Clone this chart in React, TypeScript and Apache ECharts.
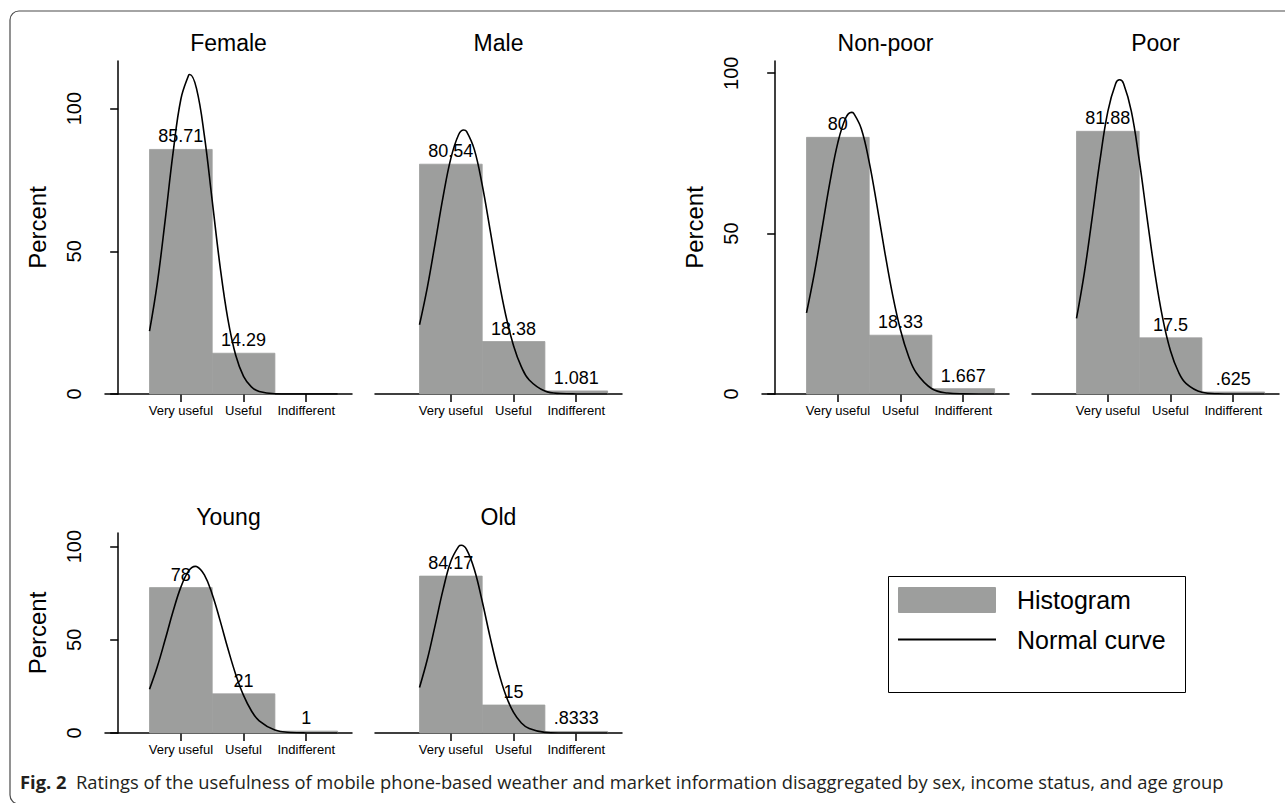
import React, { useEffect, useRef } from "react";
import * as echarts from "echarts";

// ---------- data ----------
const CATEGORIES = ["Very useful", "Useful", "Indifferent"];
const CATEGORY_X = [1, 2, 3];
const PANEL_TITLES = ["Female", "Male", "Non-poor", "Poor", "Young", "Old"];
const Y_TICKS = [0, 50, 100];

const FEMALE = [85.71, 14.29, 0];
const MALE = [80.54, 18.38, 1.081];
const NON_POOR = [80, 18.33, 1.667];
const POOR = [81.88, 17.5, 0.625];
const YOUNG = [78, 21, 1];
const OLD = [84.17, 15, 0.8333];

// normal curves: [x, percent]
const CURVE_FEMALE = [[0.5, 22.0], [0.625, 38.95], [0.75, 60.96], [0.875, 84.4], [1.0, 103.3], [1.125, 111.8], [1.143, 111.96], [1.25, 107.0], [1.375, 90.56], [1.5, 67.77], [1.625, 44.84], [1.75, 26.23], [1.875, 13.57], [2.0, 6.21], [2.125, 2.51], [2.25, 0.9], [2.5, 0.08], [2.75, 0], [3.0, 0], [3.25, 0], [3.5, 0]];
const CURVE_MALE = [[0.5, 24.27], [0.625, 37.39], [0.75, 52.97], [0.875, 68.98], [1.0, 82.59], [1.125, 90.93], [1.205, 92.52], [1.25, 92.03], [1.375, 85.64], [1.5, 73.26], [1.625, 57.62], [1.75, 41.67], [1.875, 27.7], [2.0, 16.94], [2.125, 9.51], [2.25, 4.92], [2.5, 1.02], [2.75, 0.15], [3.0, 0.02], [3.25, 0], [3.5, 0]];
const CURVE_NON_POOR = [[0.5, 25.31], [0.625, 37.61], [0.75, 51.82], [0.875, 66.18], [1.0, 78.36], [1.125, 86.03], [1.217, 87.8], [1.25, 87.56], [1.375, 82.63], [1.5, 72.29], [1.625, 58.64], [1.75, 44.1], [1.875, 30.75], [2.0, 19.88], [2.125, 11.91], [2.25, 6.62], [2.5, 1.63], [2.75, 0.3], [3.0, 0.04], [3.25, 0], [3.5, 0]];
const CURVE_POOR = [[0.5, 23.57], [0.625, 37.75], [0.75, 55.01], [0.875, 72.97], [1.0, 88.1], [1.125, 96.8], [1.1875, 97.95], [1.25, 96.8], [1.375, 88.1], [1.5, 72.97], [1.625, 55.01], [1.75, 37.75], [1.875, 23.57], [2.0, 13.39], [2.125, 6.93], [2.25, 3.26], [2.5, 0.54], [2.75, 0.06], [3.0, 0], [3.25, 0], [3.5, 0]];
const CURVE_YOUNG = [[0.5, 23.45], [0.625, 35.65], [0.75, 50.12], [0.875, 65.14], [1.0, 78.28], [1.125, 86.96], [1.23, 89.4], [1.25, 89.31], [1.375, 84.8], [1.5, 74.45], [1.625, 60.42], [1.75, 45.33], [1.875, 31.45], [2.0, 20.17], [2.125, 11.96], [2.25, 6.55], [2.5, 1.56], [2.75, 0.27], [3.0, 0.03], [3.25, 0], [3.5, 0]];
const CURVE_OLD = [[0.5, 24.42], [0.625, 39.53], [0.75, 57.91], [0.875, 76.78], [1.0, 92.16], [1.125, 100.14], [1.167, 100.7], [1.25, 98.5], [1.375, 87.69], [1.5, 70.68], [1.625, 51.57], [1.75, 34.06], [1.875, 20.35], [2.0, 11.02], [2.125, 5.4], [2.25, 2.39], [2.5, 0.35], [2.75, 0.03], [3.0, 0], [3.25, 0], [3.5, 0]];

const LEGEND_LABELS = ["Histogram", "Normal curve"];
const CAPTION_LABEL = "Fig. 2";
const CAPTION_TEXT =
  "Ratings of the usefulness of mobile phone-based weather and market information disaggregated by sex, income status, and age group";

// ---------- styles / layout ----------
const FONT = "'Liberation Sans', Arial, Helvetica, sans-serif";
const CAPTION_FONT = "'Open Sans', 'Noto Sans', sans-serif";
const BAR_COLOR = "#9d9e9d";
const INK = "#000000";

const fmtStata = (v: number) =>
  parseFloat(v.toPrecision(4)).toString().replace(/^0\./, ".");

const PLOT_W = 247;
const panels = [
  { values: FEMALE, curve: CURVE_FEMALE, left: 105, top: 61, height: 333, yMax: 116.7, showY: true },
  { values: MALE, curve: CURVE_MALE, left: 375, top: 61, height: 333, yMax: 116.7, showY: false },
  { values: NON_POOR, curve: CURVE_NON_POOR, left: 762, top: 61, height: 333, yMax: 103.8, showY: true },
  { values: POOR, curve: CURVE_POOR, left: 1032, top: 61, height: 333, yMax: 103.8, showY: false },
  { values: YOUNG, curve: CURVE_YOUNG, left: 105, top: 533, height: 200, yMax: 107.3, showY: true },
  { values: OLD, curve: CURVE_OLD, left: 375, top: 533, height: 200, yMax: 107.3, showY: false },
];

export default function App() {
  const ref = useRef<HTMLDivElement>(null);

  useEffect(() => {
    if (!ref.current) return;
    const chart = echarts.init(ref.current, null, { renderer: "svg" });

    const axisLineStyle = { color: INK, width: 1.5 };

    const grid = panels.map((p) => ({
      left: p.left,
      top: p.top,
      width: PLOT_W,
      height: p.height,
    }));

    const xAxis = panels.map((p, i) => ({
      type: "value",
      gridIndex: i,
      min: -0.21,
      max: 3.73,
      axisLine: { show: true, onZero: false, lineStyle: axisLineStyle },
      axisTick: { show: true, customValues: CATEGORY_X, length: 8, lineStyle: axisLineStyle },
      axisLabel: {
        customValues: CATEGORY_X,
        formatter: (v: number) => CATEGORIES[CATEGORY_X.indexOf(Math.round(v))] ?? "",
        fontSize: 13,
        fontFamily: FONT,
        color: INK,
        margin: 10,
      },
      splitLine: { show: false },
    }));

    const yAxis = panels.map((p, i) => ({
      type: "value",
      gridIndex: i,
      min: 0,
      max: p.yMax,
      show: p.showY,
      name: "Percent",
      nameLocation: "middle",
      nameGap: 56,
      nameRotate: 90,
      nameTextStyle: { fontSize: 24, fontFamily: FONT, color: INK },
      axisLine: { show: true, lineStyle: axisLineStyle },
      axisTick: { show: true, customValues: Y_TICKS, length: 8, lineStyle: axisLineStyle },
      axisLabel: {
        customValues: Y_TICKS,
        rotate: 90,
        fontSize: 20,
        fontFamily: FONT,
        color: INK,
        margin: 21,
      },
      splitLine: { show: false },
    }));

    const series: any[] = [];
    panels.forEach((p, i) => {
      series.push({
        type: "custom",
        name: LEGEND_LABELS[0],
        xAxisIndex: i,
        yAxisIndex: i,
        data: CATEGORY_X.map((x, k) => [x, p.values[k]]).filter((d) => d[1] > 0),
        renderItem: (_params: any, api: any) => {
          const x = api.value(0);
          const y = api.value(1);
          const p0 = api.coord([x - 0.5, y]);
          const p1 = api.coord([x + 0.5, 0]);
          return {
            type: "group",
            children: [
              {
                type: "rect",
                shape: { x: p0[0], y: p0[1], width: p1[0] - p0[0], height: p1[1] - p0[1] },
                style: { fill: BAR_COLOR, stroke: BAR_COLOR, lineWidth: 0.8 },
              },
              {
                type: "text",
                x: (p0[0] + p1[0]) / 2,
                y: p0[1] - 4,
                style: {
                  text: fmtStata(y),
                  fill: INK,
                  fontSize: 18,
                  fontFamily: FONT,
                  align: "center",
                  verticalAlign: "bottom",
                },
              },
            ],
          };
        },
        z: 2,
      });
      series.push({
        type: "line",
        name: LEGEND_LABELS[1],
        xAxisIndex: i,
        yAxisIndex: i,
        data: p.curve,
        smooth: 0.4,
        symbol: "none",
        lineStyle: { color: INK, width: 1.6 },
        z: 3,
      });
    });

    const titleGraphics = panels.map((p, i) => ({
      type: "text",
      x: p.left + PLOT_W / 2,
      y: p.top < 100 ? 43 : 517,
      style: {
        text: PANEL_TITLES[i],
        fill: INK,
        fontSize: 23,
        fontFamily: FONT,
        align: "center",
        verticalAlign: "middle",
      },
    }));

    const graphic: any[] = [
      {
        type: "rect",
        shape: { x: 10, y: 11, width: 1300, height: 793, r: 9 },
        style: { fill: "none", stroke: "#4a4a4a", lineWidth: 1.2 },
        silent: true,
      },
      ...titleGraphics,
      // legend
      {
        type: "rect",
        shape: { x: 888.5, y: 576.5, width: 297, height: 116 },
        style: { fill: "#fff", stroke: INK, lineWidth: 1 },
      },
      {
        type: "rect",
        shape: { x: 898, y: 587, width: 98, height: 26, r: 1 },
        style: { fill: BAR_COLOR },
      },
      {
        type: "line",
        shape: { x1: 898, y1: 639.5, x2: 996, y2: 639.5 },
        style: { stroke: INK, lineWidth: 1.8 },
      },
      {
        type: "text",
        x: 1017,
        y: 600,
        style: { text: LEGEND_LABELS[0], fill: INK, fontSize: 25, fontFamily: FONT, verticalAlign: "middle" },
      },
      {
        type: "text",
        x: 1017,
        y: 640,
        style: { text: LEGEND_LABELS[1], fill: INK, fontSize: 25, fontFamily: FONT, verticalAlign: "middle" },
      },
      // caption
      {
        type: "text",
        x: 20,
        y: 781,
        style: {
          text: "{b|" + CAPTION_LABEL + "}  " + CAPTION_TEXT,
          fill: "#231f20",
          fontSize: 18.35,
          fontFamily: CAPTION_FONT,
          verticalAlign: "middle",
          rich: {
            b: { fontWeight: "bold", fontSize: 18.35, fontFamily: CAPTION_FONT, fill: "#231f20" },
          },
        },
      },
    ];

    chart.setOption({
      animation: false,
      backgroundColor: "#ffffff",
      grid,
      xAxis,
      yAxis,
      series,
      graphic,
    });

    return () => chart.dispose();
  }, []);

  return (
    <div
      ref={ref}
      style={{ position: "absolute", left: 0, top: 0, width: 1285, height: 803 }}
    />
  );
}
